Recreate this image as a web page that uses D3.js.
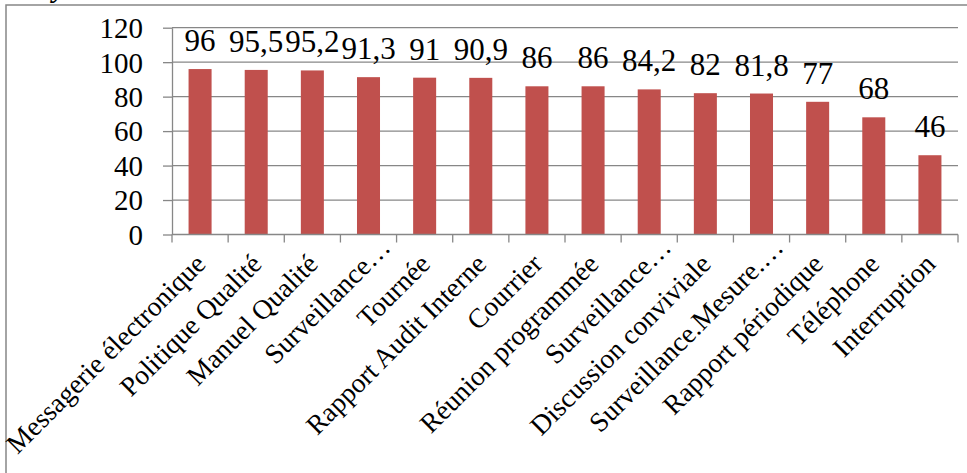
<!DOCTYPE html>
<html>
<head>
<meta charset="utf-8">
<script src="https://cdn.jsdelivr.net/npm/d3@7"></script>
<style>
  html, body { margin: 0; padding: 0; background: #fff; }
  svg { display: block; }
  svg text { font-family: 'Liberation Serif', 'Times New Roman', Times, serif; fill: #000; }
</style>
</head>
<body>
<svg id="chart" width="967" height="473"></svg>
<script>
const categories = [
  "Messagerie électronique", "Politique Qualité", "Manuel Qualité", "Surveillance…",
  "Tournée", "Rapport Audit Interne", "Courrier", "Réunion programmée",
  "Surveillance…", "Discussion conviviale", "Surveillance.Mesure.…", "Rapport périodique",
  "Téléphone", "Interruption"
];
const values = [96, 95.5, 95.2, 91.3, 91, 90.9, 86, 86, 84.2, 82, 81.8, 77, 68, 46];
const yTicks = [0, 20, 40, 60, 80, 100, 120];

(function () {
const FONT = "'Liberation Serif', 'Times New Roman', Times, serif";
const svg = d3.select("#chart").style("font-family", FONT);
const plotL = 172, plotR = 958, plotT = 27.7, plotB = 234.5;
const gridColor = "#878787";

// outer chart border (clipped by the picture)
svg.append("rect").attr("x", 6).attr("y", 5).attr("width", 1000).attr("height", 600)
  .attr("fill", "none").attr("stroke", gridColor).attr("stroke-width", 1.5);

// clipped title remnant
svg.append("text").attr("x", 53).attr("y", -3).attr("font-size", 29)
  .attr("font-weight", "bold").attr("font-style", "italic").text("y");

const idx = categories.map((c, i) => i);
const x = d3.scaleBand().domain(idx).range([plotL, plotR]).paddingInner(0.59).paddingOuter(0.295);
const y = d3.scaleLinear().domain([0, 120]).range([plotB, plotT]);

// gridlines
svg.append("g").selectAll("line").data(yTicks.filter(t => t !== 0)).join("line")
  .attr("x1", plotL).attr("x2", plotR)
  .attr("y1", d => y(d)).attr("y2", d => y(d))
  .attr("stroke", gridColor).attr("stroke-width", 1.3);

// y axis
const yAxis = svg.append("g").attr("transform", `translate(${plotL},0)`)
  .call(d3.axisLeft(y).tickValues(yTicks).tickSize(9).tickSizeOuter(0).tickPadding(20));
yAxis.attr("font-family", null).attr("font-size", null);
yAxis.select(".domain").attr("stroke", gridColor).attr("stroke-width", 1.3);
yAxis.selectAll(".tick line").attr("stroke", gridColor).attr("stroke-width", 1.3);
yAxis.selectAll(".tick text").attr("font-size", 29).attr("dy", "0.34em")
  .style("font-family", FONT).attr("fill", "#000");

// bars
svg.append("g").selectAll("rect").data(values).join("rect")
  .attr("x", (d, i) => x(i)).attr("width", x.bandwidth())
  .attr("y", d => y(d)).attr("height", d => y(0) - y(d))
  .attr("fill", "#C0504D");

// x axis line and ticks at category boundaries
const gap = x.step() - x.bandwidth();
const bounds = idx.map(i => x(i) - gap / 2).concat([x(idx.length - 1) + x.bandwidth() + gap / 2]);
svg.append("line").attr("x1", plotL).attr("x2", plotR).attr("y1", y(0)).attr("y2", y(0))
  .attr("stroke", gridColor).attr("stroke-width", 1.3);
svg.append("g").selectAll("line").data(bounds).join("line")
  .attr("x1", d => d).attr("x2", d => d).attr("y1", y(0)).attr("y2", y(0) + 8)
  .attr("stroke", gridColor).attr("stroke-width", 1.3);

// value labels
svg.append("g").selectAll("text").data(values).join("text")
  .attr("x", (d, i) => x(i) + x.bandwidth() / 2)
  .attr("y", d => y(d) - 18)
  .attr("text-anchor", "middle").attr("font-size", 31)
  .style("font-family", FONT)
  .text(d => String(d).replace(".", ","));

// category labels (truncated ones sit further along the diagonal)
svg.append("g").selectAll("text").data(categories).join("text")
  .attr("transform", (d, i) => `translate(${x(i) + x.bandwidth() / 2 + 7},${y(0) + 31}) rotate(-45)`)
  .attr("text-anchor", "end").attr("font-size", 27.5)
  .attr("dx", d => d.endsWith("…") ? "0.85em" : 0)
  .style("font-family", FONT)
  .text(d => d);
})();
</script>
</body>
</html>
